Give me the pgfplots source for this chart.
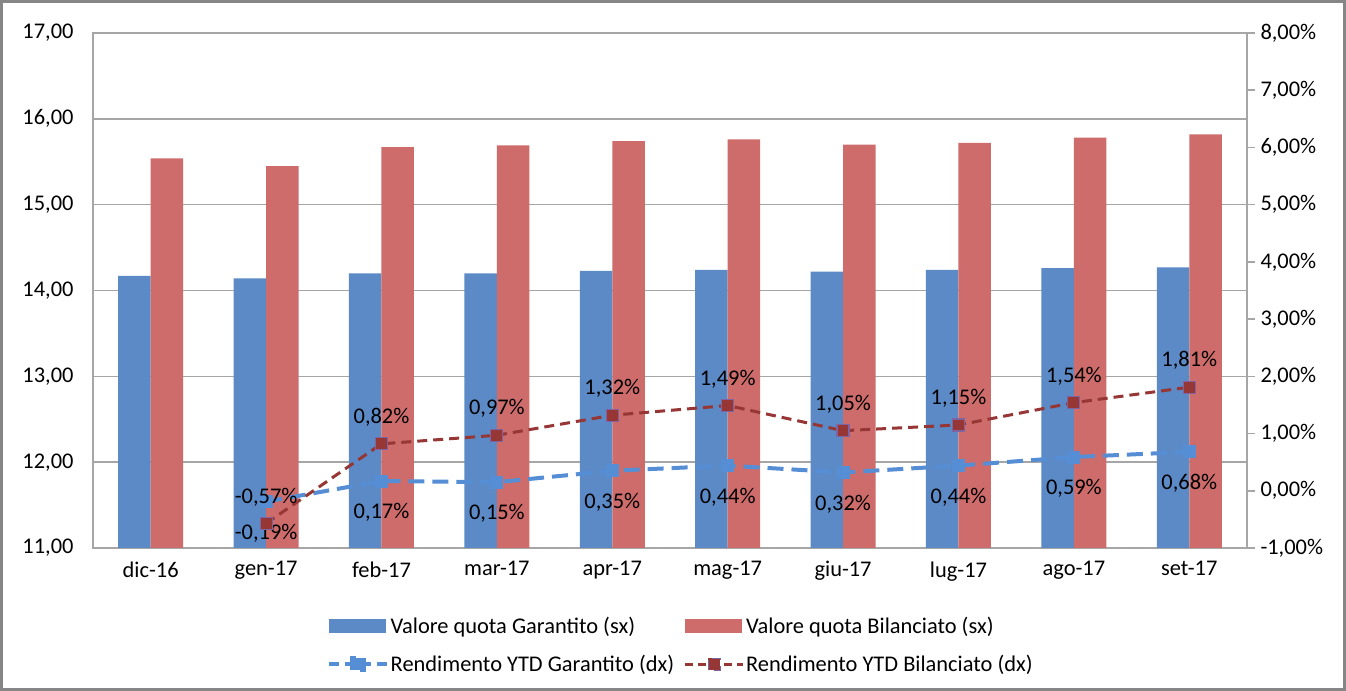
\documentclass[border=0pt]{standalone}
\usepackage{pgfplots}
\pgfplotsset{compat=1.18}
\usepackage{fontspec}
\setmainfont{Carlito}
\definecolor{barblue}{RGB}{91,138,198}
\definecolor{barred}{RGB}{205,108,106}
\definecolor{lineblue}{RGB}{85,142,213}
\definecolor{linered}{RGB}{150,55,53}
\definecolor{mkborder}{RGB}{128,100,162}
\definecolor{axgray}{RGB}{166,166,166}
\definecolor{framegray}{RGB}{134,134,134}
\pgfplotsset{
  legbarblue/.style={legend image code/.code={\fill[barblue] (0bp,-6.5bp) rectangle (56bp,6.5bp);}},
  legbarred/.style={legend image code/.code={\fill[barred] (0bp,-6.5bp) rectangle (56bp,6.5bp);}},
  leglineblue/.style={legend image code/.code={\draw[lineblue, line width=4bp, dash pattern=on 10bp off 6bp] (0bp,0bp) -- (58bp,0bp); \fill[lineblue] (23bp,-6bp) rectangle (35bp,6bp);}},
  leglinered/.style={legend image code/.code={\draw[linered, line width=3bp, dash pattern=on 8bp off 5bp] (0bp,0bp) -- (58bp,0bp); \filldraw[fill=linered, draw=mkborder, line width=1.2bp] (23bp,-6bp) rectangle (35bp,6bp);}},
}
\begin{document}
\begin{tikzpicture}
\useasboundingbox (0,0) rectangle (1346bp,691bp);
\draw[framegray, line width=2.5bp] (1.5bp,1.5bp) rectangle (1344.5bp,689.5bp);
\pgfplotsset{every axis/.append style={scale only axis, width=1154bp, height=515bp,
  at={(93bp,143bp)}, anchor=south west, xmin=-0.5, xmax=9.5,
  font=\fontsize{22.5}{27}\selectfont, /pgf/number format/assume math mode=true,
  scaled y ticks=false}}
\begin{axis}[
  ybar=0pt, bar width=32.5bp,
  ymin=11, ymax=17, ytick={11,12,...,17},
  xtick={0,...,9},
  xticklabels={dic-16,gen-17,feb-17,mar-17,apr-17,mag-17,giu-17,lug-17,ago-17,set-17},
  major tick length=0pt,
  axis line style={axgray, line width=1.5bp},
  ymajorgrids, grid style={axgray, line width=1.5bp},
  yticklabel style={xshift=-16bp, /pgf/number format/.cd, fixed, fixed zerofill, precision=2, use comma},
  xticklabel style={yshift=-10bp},
]
\addplot[fill=barblue, draw=none] coordinates {(0,14.17) (1,14.14) (2,14.20) (3,14.20) (4,14.23) (5,14.24) (6,14.22) (7,14.24) (8,14.26) (9,14.27)};
\addplot[fill=barred, draw=none] coordinates {(0,15.54) (1,15.45) (2,15.67) (3,15.69) (4,15.74) (5,15.76) (6,15.70) (7,15.72) (8,15.78) (9,15.82)};
\end{axis}
\begin{axis}[
  ymin=-1, ymax=8, ytick={-1,0,...,8},
  axis x line=none, axis y line*=right,
  axis line style={axgray, line width=1.5bp},
  ytick style={axgray, line width=1.5bp},
  tick align=outside, major tick length=8bp,
  yticklabel={\pgfmathprintnumber[fixed,fixed zerofill,precision=2,use comma]{\tick}\%},
  yticklabel style={xshift=2bp},
  legend columns=2,
  legend style={draw=none, fill=none, inner sep=0pt, at={(0.2028,-0.130)}, anchor=north west,
    font=\fontsize{22.5}{27}\selectfont, row sep=18bp, nodes={inner sep=1.5bp}},
  legend cell align=left,
  /tikz/every even column/.append style={column sep=8bp},
]
\addlegendimage{legbarblue}
\addlegendentry{Valore quota Garantito (sx)}
\addlegendimage{legbarred}
\addlegendentry{Valore quota Bilanciato (sx)}
\addplot[lineblue, line width=4bp, dash pattern=on 16bp off 8bp,
  mark=square*, mark size=6bp, mark options={solid, fill=lineblue, draw=lineblue, line width=1bp},
  nodes near coords={\pgfmathprintnumber[fixed,fixed zerofill,precision=2,use comma]{\pgfplotspointmeta}\%},
  nodes near coords style={anchor=north, black, yshift=-18.5bp, font=\fontsize{22.5}{27}\selectfont},
  leglineblue]
  coordinates {(1,-0.19) (2,0.17) (3,0.15) (4,0.35) (5,0.44) (6,0.32) (7,0.44) (8,0.59) (9,0.68)};
\addlegendentry{Rendimento YTD Garantito (dx)}
\addplot[linered, line width=3bp, dash pattern=on 10bp off 6bp,
  mark=square*, mark size=6bp, mark options={solid, fill=linered, draw=mkborder, line width=1.2bp},
  nodes near coords={\pgfmathprintnumber[fixed,fixed zerofill,precision=2,use comma]{\pgfplotspointmeta}\%},
  nodes near coords style={anchor=south, black, yshift=13.5bp, font=\fontsize{22.5}{27}\selectfont},
  leglinered]
  coordinates {(1,-0.57) (2,0.82) (3,0.97) (4,1.32) (5,1.49) (6,1.05) (7,1.15) (8,1.54) (9,1.81)};
\addlegendentry{Rendimento YTD Bilanciato (dx)}
\end{axis}
\end{tikzpicture}
\end{document}
